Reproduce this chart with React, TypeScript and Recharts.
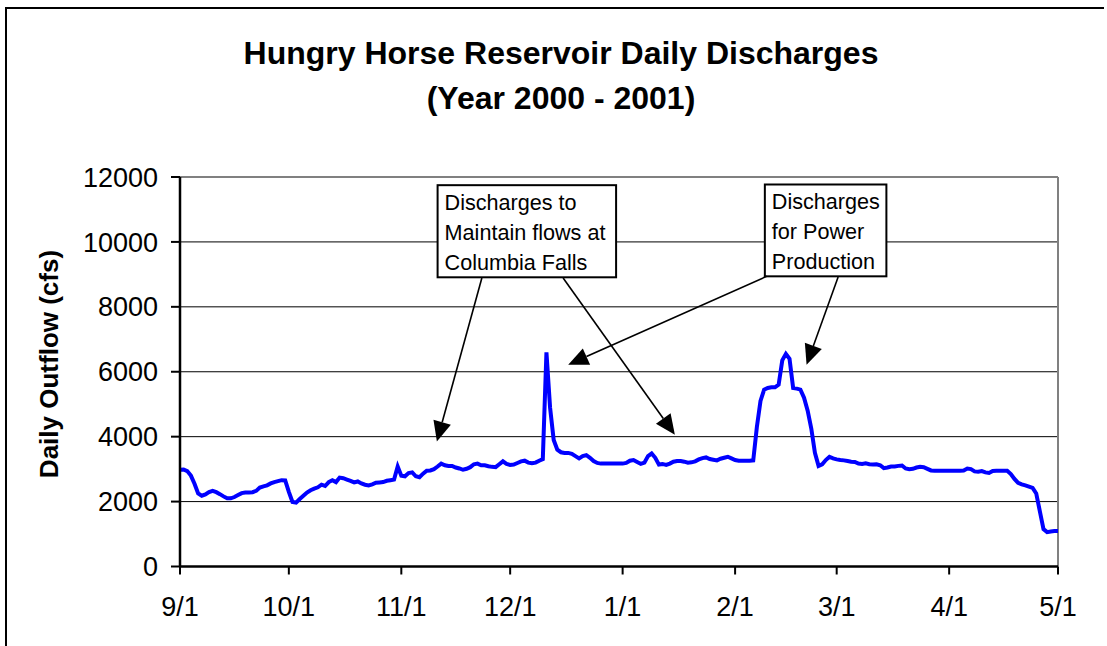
import React from 'react';
import { LineChart, Line, XAxis, YAxis, CartesianGrid, ReferenceLine, ReferenceArea } from 'recharts';

// Daily outflow (cfs), one value per day starting 9/1/2000 (index = days since 9/1)
const flows: number[] = [
  2980, 2990, 2940, 2800, 2550, 2250, 2180, 2220, 2290, 2330,
  2290, 2230, 2160, 2100, 2100, 2140, 2200, 2260, 2280, 2280,
  2290, 2330, 2430, 2470, 2500, 2560, 2600, 2630, 2660, 2650,
  2300, 1990, 1970, 2080, 2180, 2280, 2350, 2400, 2440, 2520,
  2480, 2600, 2660, 2600, 2740, 2720, 2680, 2640, 2590, 2620,
  2560, 2520, 2500, 2530, 2580, 2590, 2600, 2640, 2660, 2680,
  3080, 2800, 2780, 2880, 2900, 2780, 2750, 2860, 2950, 2960,
  3000, 3080, 3170, 3120, 3100, 3100, 3050, 3020, 2980, 3010,
  3060, 3150, 3170, 3120, 3120, 3090, 3070, 3060, 3150, 3240,
  3160, 3130, 3140, 3190, 3240, 3260, 3200, 3180, 3200, 3260,
  3310, 6600, 4900, 3900, 3600, 3520, 3500, 3500, 3470, 3400,
  3330, 3400, 3430, 3350, 3250, 3190, 3170, 3170, 3170, 3170,
  3170, 3170, 3170, 3190, 3260, 3280, 3220, 3160, 3200, 3400,
  3480, 3350, 3140, 3160, 3130, 3170, 3230, 3250, 3250, 3230,
  3200, 3210, 3240, 3300, 3340, 3360, 3310, 3290, 3270, 3320,
  3350, 3380, 3330, 3280, 3260, 3260, 3260, 3260, 3270, 4300,
  5100, 5450, 5500, 5520, 5520, 5600, 6350, 6550, 6400, 5500,
  5480, 5450, 5200, 4800, 4250, 3500, 3100, 3150, 3280, 3380,
  3330, 3300, 3280, 3270, 3250, 3230, 3220, 3170, 3160, 3180,
  3150, 3140, 3150, 3120, 3030, 3050, 3080, 3080, 3100, 3110,
  3020, 3000, 3010, 3050, 3070, 3060, 3010, 2960, 2950, 2950,
  2950, 2950, 2950, 2950, 2950, 2950, 2960, 3020, 3000, 2930,
  2920, 2940, 2900, 2880, 2940, 2950, 2950, 2950, 2950, 2850,
  2700, 2580, 2530, 2500, 2460, 2420, 2250, 1700, 1150, 1060,
  1080, 1090, 1090,
];

const tickDays = [0, 30, 61, 91, 122, 153, 181, 212, 242];
const tickLabels = ['9/1', '10/1', '11/1', '12/1', '1/1', '2/1', '3/1', '4/1', '5/1'];
const yTicks = [0, 2000, 4000, 6000, 8000, 10000, 12000];
const gridValues = [2000, 4000, 6000, 8000, 10000];

const titleLines = ['Hungry Horse Reservoir Daily Discharges', '(Year 2000 - 2001)'];
const yLabel = 'Daily Outflow (cfs)';

const notes = [
  { lines: ['Discharges to', 'Maintain flows at', 'Columbia Falls'], x1: 71.0, x2: 120.2, y1: 8910, y2: 11748 },
  { lines: ['Discharges', 'for Power', 'Production'], x1: 161.2, x2: 194.7, y1: 8940, y2: 11769 },
];

const arrows = [
  { fx: 83.2, fy: 8891, tx: 70.8, ty: 3850 },
  { fx: 105.6, fy: 8891, tx: 136.4, ty: 4057 },
  { fx: 161.7, fy: 8940, tx: 107.0, ty: 6216 },
  { fx: 181.4, fy: 8922, tx: 172.7, ty: 6216 },
];

const data = flows.map((v, i) => ({ day: i, flow: v }));

const FONT = "Arial, 'Liberation Sans', sans-serif";

const ArrowShape = (p: any) => {
  const { x1, y1, x2, y2 } = p;
  if ([x1, y1, x2, y2].some((v) => typeof v !== 'number' || isNaN(v))) return null;
  const dx = x2 - x1;
  const dy = y2 - y1;
  const len = Math.hypot(dx, dy) || 1;
  const ux = dx / len;
  const uy = dy / len;
  const hl = 20;
  const hw = 9;
  const bx = x2 - ux * hl;
  const by = y2 - uy * hl;
  const pts = `${x2},${y2} ${bx - uy * hw},${by + ux * hw} ${bx + uy * hw},${by - ux * hw}`;
  return (
    <g>
      <line x1={x1} y1={y1} x2={bx} y2={by} stroke="#000" strokeWidth={1.6} />
      <polygon points={pts} fill="#000" />
    </g>
  );
};

const makeNoteShape = (lines: string[]) => (p: any) => {
  const { x, y, width, height } = p;
  if ([x, y, width, height].some((v) => typeof v !== 'number' || isNaN(v))) return null;
  return (
    <g>
      <rect x={x} y={y} width={width} height={height} fill="#fff" stroke="#000" strokeWidth={2} />
      {lines.map((t, i) => (
        <text key={i} x={x + 7} y={y + 24.5 + i * 30} fontFamily={FONT} fontSize={21.6} fill="#000">
          {t}
        </text>
      ))}
    </g>
  );
};

export default function App() {
  return (
    <div style={{ position: 'absolute', left: 0, top: 0, width: 1107, height: 646, overflow: 'hidden', background: '#fff' }}>
      <LineChart
        width={1107}
        height={646}
        data={data}
        margin={{ top: 177, right: 49, bottom: 19.5, left: 0 }}
      >
        <CartesianGrid horizontal vertical={false} stroke="#000" strokeWidth={1} horizontalValues={gridValues} />
        <XAxis
          type="number"
          dataKey="day"
          domain={[0, 242]}
          ticks={tickDays}
          interval={0}
          allowDataOverflow
          tickFormatter={(v: number) => tickLabels[tickDays.indexOf(v)] ?? ''}
          tick={{ fill: '#000', fontSize: 27, fontFamily: FONT }}
          axisLine={{ stroke: '#000', strokeWidth: 2.5 }}
          tickLine={{ stroke: '#000', strokeWidth: 2 }}
          tickSize={8}
          tickMargin={22}
          height={60}
        />
        <YAxis
          type="number"
          domain={[0, 12000]}
          ticks={yTicks}
          interval={0}
          allowDataOverflow
          tick={{ fill: '#000', fontSize: 27, fontFamily: FONT }}
          axisLine={{ stroke: '#000', strokeWidth: 2.5 }}
          tickLine={{ stroke: '#000', strokeWidth: 2 }}
          tickSize={9}
          tickMargin={13}
          width={180}
        />
        <ReferenceLine y={12000} stroke="#808080" strokeWidth={2} ifOverflow="visible" />
        <ReferenceLine x={242} stroke="#808080" strokeWidth={2} ifOverflow="visible" />
        <Line
          type="linear"
          dataKey="flow"
          stroke="#0000FF"
          strokeWidth={4}
          dot={false}
          activeDot={false}
          isAnimationActive={false}
        />
        {notes.map((n, i) => (
          <ReferenceArea
            key={'n' + i}
            x1={n.x1}
            x2={n.x2}
            y1={n.y1}
            y2={n.y2}
            ifOverflow="visible"
            shape={makeNoteShape(n.lines)}
          />
        ))}
        {arrows.map((a, i) => (
          <ReferenceLine
            key={'a' + i}
            segment={[{ x: a.fx, y: a.fy }, { x: a.tx, y: a.ty }]}
            ifOverflow="visible"
            shape={ArrowShape}
          />
        ))}
      </LineChart>
      <svg
        width={1107}
        height={646}
        style={{ position: 'absolute', left: 0, top: 0, pointerEvents: 'none' }}
      >
        <path d="M6 660 L6 8 L1104 8" fill="none" stroke="#000" strokeWidth={2} />
        {titleLines.map((t, i) => (
          <text
            key={i}
            x={561}
            y={64 + i * 45}
            textAnchor="middle"
            fontFamily={FONT}
            fontWeight="bold"
            fontSize={32}
            fill="#000"
          >
            {t}
          </text>
        ))}
        <text
          x={58}
          y={364}
          transform="rotate(-90 58 364)"
          textAnchor="middle"
          fontFamily={FONT}
          fontWeight="bold"
          fontSize={26}
          fill="#000"
        >
          {yLabel}
        </text>
      </svg>
    </div>
  );
}
